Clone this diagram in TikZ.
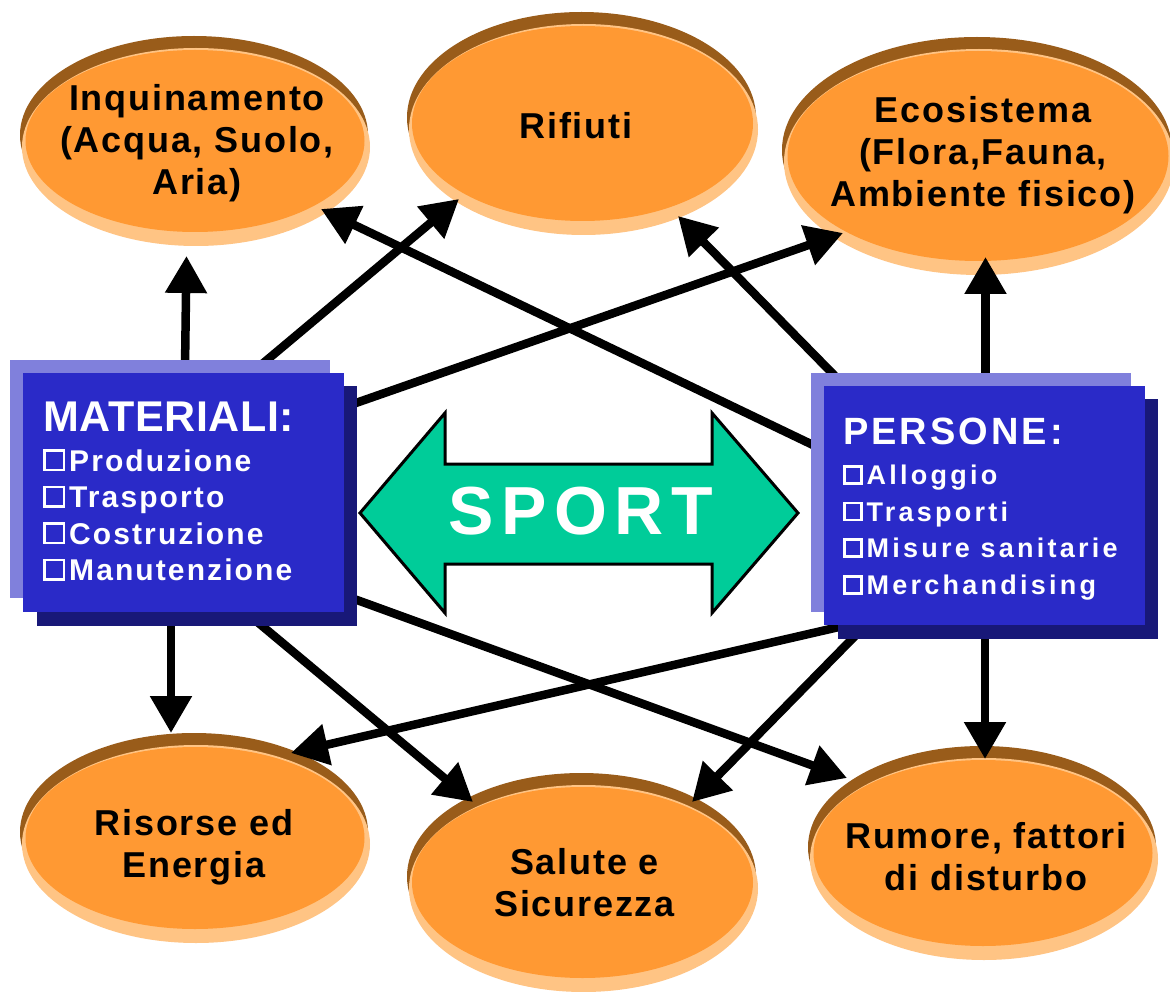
\documentclass[tikz,border=0pt]{standalone}
\usepackage{fontspec}
\setmainfont{Liberation Sans}
\newfontfamily\fE[LetterSpace=5]{Liberation Sans Bold}
\newfontfamily\fTa[LetterSpace=1.5]{Liberation Sans Bold}
\newfontfamily\fTb[LetterSpace=8]{Liberation Sans Bold}
\newfontfamily\fIa[LetterSpace=7]{Liberation Sans Bold}
\newfontfamily\fIb[LetterSpace=12]{Liberation Sans Bold}
\newfontfamily\fS[LetterSpace=11]{Liberation Sans Bold}
\usetikzlibrary{arrows.meta,shapes.geometric}
\definecolor{orng}{RGB}{255,153,51}
\definecolor{brwn}{RGB}{153,92,26}
\definecolor{pch}{RGB}{255,196,132}
\definecolor{bmain}{RGB}{42,42,200}
\definecolor{blight}{RGB}{128,128,220}
\definecolor{bdark}{RGB}{24,24,120}
\definecolor{grn}{RGB}{0,204,153}
\pgfdeclarelayer{bg}
\pgfdeclarelayer{mid}
\pgfsetlayers{bg,mid,main}
\newcommand\cbx[1]{\raisebox{2.5pt}{\fboxsep=0pt\fboxrule=2.5pt\fbox{\rule{0pt}{#1}\rule{#1}{0pt}}}\hspace{4pt}}
\begin{document}
\begin{tikzpicture}[x=1pt,y=-1pt,
  ell/.style={shape=ellipse, fill=orng, inner sep=0pt, outer sep=0pt},
  etxt/.style={font=\fE\fontsize{36pt}{42pt}\selectfont, align=center, inner sep=0pt},
  mbox/.style={shape=rectangle, fill=bmain, minimum width=321pt, minimum height=239pt, inner sep=0pt, outer sep=0pt},
  btxt/.style={text=white, align=left, inner sep=0pt, anchor=north west},
  arr/.style={line width=8.5pt, -{Triangle[length=37pt,width=40pt]}}]
\useasboundingbox (0,0) rectangle (1170,992);
\begin{pgfonlayer}{bg}
\fill[white] (0,0) rectangle (1170,992);
% Inquinamento
\fill[brwn] (194,135) ellipse [x radius=174pt, y radius=99pt];
\fill[pch] (196,147) ellipse [x radius=174pt, y radius=99pt];
\node[ell, minimum width=339pt, minimum height=182pt] (inq) at (195,141) {};
\node[etxt] (inqt) at (197,143) {Inquinamento\\(Acqua, Suolo,\\Aria)};
% Rifiuti
\fill[brwn] (581.5,117.5) ellipse [x radius=174.5pt, y radius=105.5pt];
\fill[pch] (583.5,129.5) ellipse [x radius=174.5pt, y radius=105.5pt];
\node[ell, minimum width=341pt, minimum height=195pt] (rif) at (582.5,123.5) {};
\node[etxt] (rift) at (576,126) {Rifiuti};
% Ecosistema
\fill[brwn] (977,150) ellipse [x radius=195pt, y radius=113pt];
\fill[pch] (979,162) ellipse [x radius=195pt, y radius=113pt];
\node[ell, minimum width=381pt, minimum height=210pt] (eco) at (978,156) {};
\node[etxt] (ecot) at (983,155) {Ecosistema\\(Flora,Fauna,\\Ambiente fisico)};
% Risorse
\fill[brwn] (194,832) ellipse [x radius=174pt, y radius=99pt];
\fill[pch] (196,844) ellipse [x radius=174pt, y radius=99pt];
\node[ell, minimum width=339pt, minimum height=182pt] (ris) at (195,838) {};
\node[etxt] (rist) at (194,847) {Risorse ed\\Energia};
% Salute
\fill[brwn] (581.5,876.5) ellipse [x radius=174.5pt, y radius=103.5pt];
\fill[pch] (583.5,888.5) ellipse [x radius=174.5pt, y radius=103.5pt];
\node[ell, minimum width=341pt, minimum height=191pt] (sal) at (582.5,882.5) {};
\node[etxt] (salt) at (584.5,883) {Salute e\\Sicurezza};
% Rumore
\fill[brwn] (982,847) ellipse [x radius=174pt, y radius=101pt];
\fill[pch] (984,859) ellipse [x radius=174pt, y radius=101pt];
\node[ell, minimum width=339pt, minimum height=186pt] (rum) at (983,853) {};
\node[etxt] (rumt) at (986,857) {Rumore, fattori\\di disturbo};
\end{pgfonlayer}
% boxes
\fill[blight] (10,360) rectangle (330,598);
\fill[bdark] (37,386) rectangle (357,626);
\node[mbox] (mat) at (183.5,492.5) {};
\node[btxt, font=\fIa\fontsize{30pt}{36.5pt}\selectfont] (matt) at (43,402.2)
  {{\fTa\fontsize{43pt}{36.5pt}\selectfont MATERIALI:}\\[3pt]
   \cbx{17pt}Produzione\\\cbx{17pt}Trasporto\\\cbx{17pt}Costruzione\\\cbx{17pt}Manutenzione};
\fill[blight] (811,373) rectangle (1131,612);
\fill[bdark] (838,399) rectangle (1158,639);
\node[mbox] (per) at (984.5,505.5) {};
\node[btxt, font=\fIb\fontsize{27pt}{36.7pt}\selectfont] (pert) at (843,417.8)
  {{\fTb\fontsize{38pt}{36.7pt}\selectfont PERSONE:}\\[3.3pt]
   \cbx{14.5pt}Alloggio\\\cbx{14.5pt}Trasporti\\\cbx{14.5pt}Misure sanitarie\\\cbx{14.5pt}Merchandising};
% SPORT double arrow
\draw[fill=grn, line width=3pt, line join=miter] (360,513) -- (445,413) -- (445,464) -- (712,464) -- (712,413) -- (798,513) -- (712,613) -- (712,564) -- (445,564) -- (445,613) -- cycle;
\node[text=white, font=\fS\fontsize{68pt}{70pt}\selectfont, inner sep=0pt] (sport) at (581,511) {SPORT};
% connectors
\begin{pgfonlayer}{mid}
\draw[arr] ([shift={(1.5,-124.5)}]mat.center) -- ([shift={(-8.5,115)}]inq.center);
\draw[arr] ([shift={(77.4,-127.4)}]mat.center) -- ([shift={(-123.5,75.5)}]rif.center);
\draw[arr] ([shift={(164.9,-86.9)}]mat.center) -- ([shift={(-135,77)}]eco.center);
\draw[arr] ([shift={(-12.5,125.5)}]mat.center) -- ([shift={(-24,-105)}]ris.center);
\draw[arr] ([shift={(71.4,127.4)}]mat.center) -- ([shift={(-109.5,-80.5)}]sal.center);
\draw[arr] ([shift={(166,104.8)}]mat.center) -- ([shift={(-136,-75)}]rum.center);
\draw[arr] ([shift={(1,-124.5)}]per.center) -- ([shift={(7.5,101)}]eco.center);
\draw[arr] ([shift={(-146.9,-126.8)}]per.center) -- ([shift={(95.5,92.5)}]rif.center);
\draw[arr] ([shift={(-166.3,-58)}]per.center) -- ([shift={(126,68)}]inq.center);
\draw[arr] ([shift={(0.5,125.5)}]per.center) -- ([shift={(2,-94)}]rum.center);
\draw[arr] ([shift={(-137.7,119.7)}]per.center) -- ([shift={(96,-85)}]ris.center);
\draw[arr] ([shift={(-125.9,126.8)}]per.center) -- ([shift={(109.5,-80.5)}]sal.center);
\end{pgfonlayer}
\end{tikzpicture}
\end{document}
